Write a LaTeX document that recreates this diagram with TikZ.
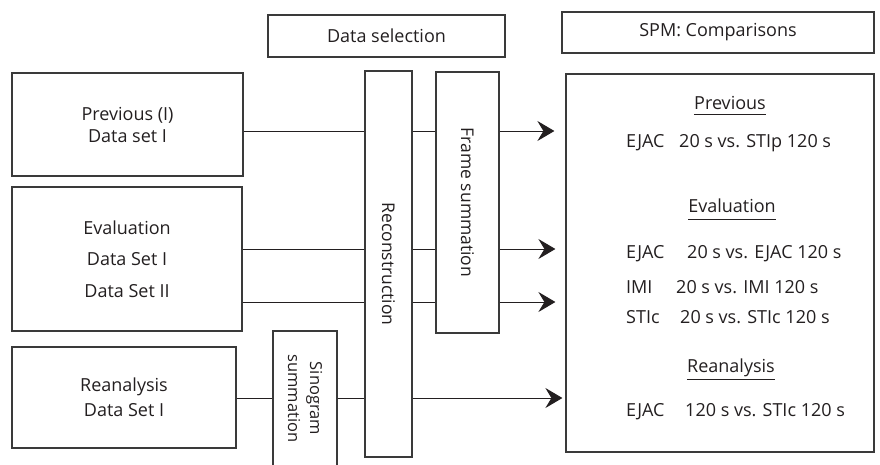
\documentclass[tikz,border=0pt]{standalone}
\usepackage{fontspec}
\setmainfont{Open Sans}
\usetikzlibrary{arrows.meta}
\definecolor{ink}{HTML}{231F20}
\definecolor{edge}{HTML}{3A3A3A}
\newcommand{\txtsize}[1]{\fontsize{18}{#1}\selectfont}
\tikzset{
  box/.style={draw=edge, line width=1.2pt, inner sep=0pt, align=center,
    text=ink, font=\txtsize{22}},
  vbox/.style={box, rotate=-90},
  conn/.style={draw=ink, line width=1pt},
  arr/.style={conn, -{Stealth[length=17pt, width=20pt, inset=6pt]}},
  txt/.style={inner sep=0pt, text=ink, font=\txtsize{22}},
  uline/.style={draw=ink, line width=1pt}
}
\begin{document}
\begin{tikzpicture}[x=1pt, y=-1pt]
\useasboundingbox (0,0) rectangle (880,464);

% header boxes
\node[box, minimum width=237, minimum height=42] (sel) at (386.5,36) {Data selection};
\node[box, minimum width=312, minimum height=41] (spm) at (718,32.5) {SPM: Comparisons};

% input data sets
\node[box, minimum width=231, minimum height=103] (prev) at (127.5,124.5)
  {Previous (I)\\Data set I};
\node[box, minimum width=230, minimum height=144, font=\txtsize{31.5}]
  (eval) at (127,259) {Evaluation\\Data Set I\\Data Set II};
\node[box, minimum width=224, minimum height=101, font=\txtsize{25}]
  (rean) at (124,397.5) {Reanalysis\\Data Set I};

% processing steps (vertical labels)
\node[vbox, minimum width=135, minimum height=64, font=\fontsize{16.5}{22}\selectfont]
  (sino) at (305,398.5) {Sinogram\\summation};
\node[vbox, minimum width=386, minimum height=47, font=\fontsize{17.5}{22}\selectfont]
  (recon) at (388.5,264) {Reconstruction};
\node[vbox, minimum width=261, minimum height=63, font=\fontsize{17.5}{22}\selectfont]
  (frame) at (467.5,202.5) {Frame summation};

% comparisons box
\node[box, minimum width=308, minimum height=378] (comp) at (720,263) {};

% row levels of the connectors
\coordinate (r1) at (0,131);
\coordinate (r2) at (0,249);
\coordinate (r3) at (0,302);
\coordinate (r4) at (0,398);

% previous
\draw[conn] (prev.east |- r1) -- (recon.south |- r1);
\draw[conn] (recon.north |- r1) -- (frame.south |- r1);
\draw[arr, shorten >=11pt] (frame.north |- r1) -- (comp.west |- r1);
% evaluation
\draw[conn] (eval.east |- r2) -- (recon.south |- r2);
\draw[conn] (recon.north |- r2) -- (frame.south |- r2);
\draw[arr, shorten >=10pt] (frame.north |- r2) -- (comp.west |- r2);
\draw[conn] (eval.east |- r3) -- (recon.south |- r3);
\draw[conn] (recon.north |- r3) -- (frame.south |- r3);
\draw[arr, shorten >=10pt] (frame.north |- r3) -- (comp.west |- r3);
% reanalysis
\draw[conn] (rean.east |- r4) -- (sino.south |- r4);
\draw[conn] (sino.north |- r4) -- (recon.south |- r4);
\draw[arr, shorten >=3pt] (recon.north |- r4) -- (comp.west |- r4);

% contents of the comparisons box
\node[txt, anchor=base] (hprev) at (730,109) {Previous};
\draw[uline] ([yshift=-5pt]hprev.base west) -- ([yshift=-5pt]hprev.base east);
\node[txt, anchor=base west] (c1a) at (626,147) {EJAC};
\node[txt, anchor=base west] (c1b) at (679,147) {20 s vs. STIp 120 s};

\node[txt, anchor=base] (heval) at (732,212) {Evaluation};
\draw[uline] ([yshift=-7pt]heval.base west) -- ([yshift=-7pt]heval.base east);
\node[txt, anchor=base west] (c2a) at (626,258) {EJAC};
\node[txt, anchor=base west] (c2b) at (687,258) {20 s vs. EJAC 120 s};
\node[txt, anchor=base west] (c3a) at (626,293) {IMI};
\node[txt, anchor=base west] (c3b) at (676,293) {20 s vs. IMI 120 s};
\node[txt, anchor=base west] (c4a) at (626,323) {STIc};
\node[txt, anchor=base west] (c4b) at (680,323) {20 s vs. STIc 120 s};

\node[txt, anchor=base] (hrean) at (731,372) {Reanalysis};
\draw[uline] ([yshift=-7pt]hrean.base west) -- ([yshift=-7pt]hrean.base east);
\node[txt, anchor=base west] (c5a) at (626,416) {EJAC};
\node[txt, anchor=base west] (c5b) at (685,416) {120 s vs. STIc 120 s};
\end{tikzpicture}
\end{document}
